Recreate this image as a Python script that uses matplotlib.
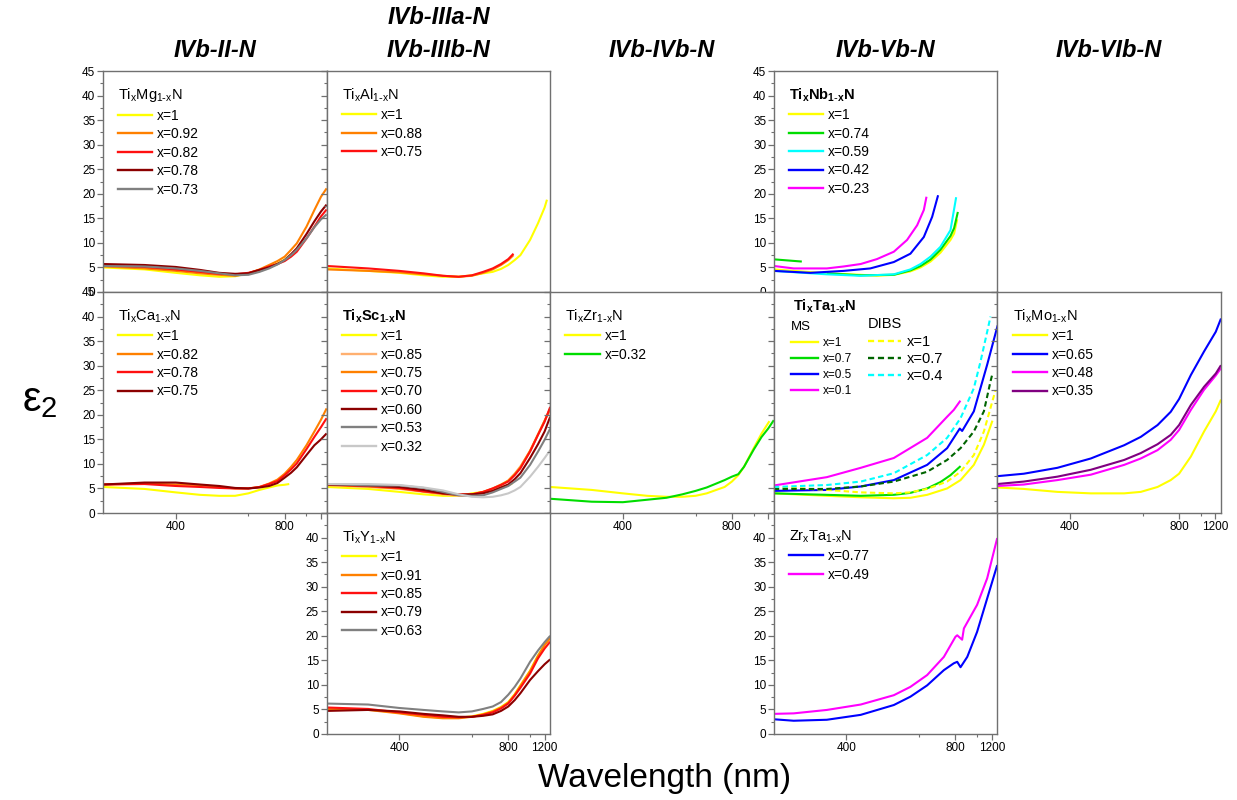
import numpy as np
import matplotlib
matplotlib.use("Agg")
import matplotlib.pyplot as plt
from matplotlib.lines import Line2D
from matplotlib.ticker import FixedLocator, FixedFormatter, NullFormatter

plt.rcParams['font.family'] = ['Liberation Sans', 'DejaVu Sans']
plt.rcParams['mathtext.default'] = 'regular'

# ---------------- data (wavelength in nm, epsilon_2) ----------------
grid = [300, 350, 400, 450, 500, 550, 600, 650, 700, 750, 800, 850, 900, 1000, 1100, 1200, 1300]

# Ti(x)Mg(1-x)N
mg_wl_x1 = [300, 350, 400, 450, 500, 550, 600, 650, 700, 750, 800, 850]
mg_x1 = [5.0, 4.6, 3.9, 3.4, 3.1, 3.2, 3.8, 4.5, 5.2, 5.8, 6.6, 7.6]
mg_x092 = [5.2, 4.8, 4.3, 3.8, 3.5, 3.3, 3.8, 4.6, 5.5, 6.3, 7.2, 8.6, 9.9, 13.3, 16.7, 19.4, 21.1]
mg_x082 = [5.4, 5.1, 4.6, 4.1, 3.7, 3.6, 3.9, 4.5, 5.2, 5.7, 6.3, 7.2, 8.2, 10.9, 13.3, 15.4, 16.8]
mg_x078 = [5.7, 5.5, 5.1, 4.5, 3.9, 3.7, 3.8, 4.5, 5.0, 5.7, 6.5, 7.7, 8.9, 11.8, 14.4, 16.4, 17.8]
mg_x073 = [5.3, 5.2, 4.8, 4.3, 3.8, 3.4, 3.5, 4.1, 4.8, 5.6, 6.5, 7.5, 8.6, 10.9, 13.2, 14.8, 15.8]

# Ti(x)Al(1-x)N
al_wl_x1 = [300, 350, 400, 450, 500, 550, 600, 650, 700, 750, 800, 850, 900, 1000, 1100, 1200, 1240]
al_x1 = [4.8, 4.3, 3.9, 3.4, 3.1, 3.1, 3.4, 3.8, 4.1, 4.7, 5.5, 6.5, 7.5, 10.6, 14.0, 17.2, 18.8]
al_wl = [300, 350, 400, 450, 500, 550, 600, 650, 700, 750, 800, 840]
al_x088 = [4.6, 4.3, 4.0, 3.6, 3.3, 3.1, 3.3, 3.9, 4.6, 5.5, 6.5, 7.5]
al_x075 = [5.3, 4.8, 4.3, 3.8, 3.3, 3.1, 3.4, 4.1, 4.8, 5.7, 6.7, 7.8]

# Ti(x)Nb(1-x)N
nb_wl_x1 = [300, 367, 428, 465, 511, 566, 606, 651, 703, 765, 790, 813]
nb_x1 = [4.6, 3.8, 3.5, 3.3, 3.5, 4.2, 5.0, 6.2, 8.0, 10.6, 11.9, 14.8]
nb_wl_x074 = [300, 332, 340, 367, 428, 511, 566, 606, 651, 703, 765, 790, 818]
nb_x074 = [6.65, 6.2, np.nan, 3.8, 3.4, 3.5, 4.4, 5.3, 6.6, 8.6, 11.4, 13.0, 16.3]
nb_wl_x059 = [300, 367, 428, 511, 566, 606, 651, 703, 765, 805]
nb_x059 = [4.3, 3.6, 3.3, 3.6, 4.6, 5.7, 7.2, 9.2, 12.6, 19.3]
nb_wl_x042 = [300, 343, 395, 449, 511, 566, 620, 659, 690]
nb_x042 = [4.3, 3.9, 4.3, 4.8, 6.1, 7.8, 11.2, 15.3, 19.7]
nb_wl_x023 = [300, 322, 367, 395, 428, 465, 511, 554, 592, 620, 632]
nb_x023 = [5.3, 4.8, 4.8, 5.2, 5.7, 6.7, 8.2, 10.6, 13.6, 16.7, 19.4]

# Ti(x)Ca(1-x)N
ca_wl_x1 = [300, 350, 400, 450, 500, 550, 600, 650, 700, 750, 800, 835]
ca_x1 = [5.3, 4.9, 4.2, 3.7, 3.5, 3.5, 4.0, 4.7, 5.2, 5.6, 5.75, 5.9]
ca_x082 = [5.8, 6.0, 5.8, 5.7, 5.3, 5.0, 5.0, 5.3, 6.0, 6.8, 8.0, 9.4, 10.8, 13.8, 16.6, 19.0, 21.3]
ca_x078 = [5.8, 5.9, 5.5, 5.3, 5.1, 5.0, 5.0, 5.3, 5.9, 6.5, 7.7, 8.9, 10.1, 13.0, 15.5, 17.5, 19.3]
ca_x075 = [5.8, 6.2, 6.2, 5.8, 5.5, 5.1, 5.0, 5.2, 5.5, 6.1, 7.2, 8.2, 9.3, 11.8, 13.8, 15.0, 16.2]

# Ti(x)Sc(1-x)N
sc_wl_x1 = [300, 350, 400, 450, 500, 550, 600, 650, 700, 750, 800, 830]
sc_x1 = [5.3, 4.9, 4.3, 3.8, 3.5, 3.5, 4.0, 4.3, 4.8, 5.2, 5.7, 6.0]
sc_x085 = [5.7, 5.3, 4.9, 4.3, 3.8, 3.5, 3.6, 4.1, 4.8, 5.6, 6.6, 8.0, 9.5, 12.6, 16.0, 18.8, 21.0]
sc_x075 = [5.7, 5.4, 5.0, 4.4, 3.9, 3.7, 3.8, 4.3, 5.0, 5.8, 6.6, 7.9, 9.3, 12.7, 16.0, 18.8, 21.3]
sc_x070 = [5.8, 5.5, 5.1, 4.4, 4.0, 3.8, 3.8, 4.3, 5.0, 5.7, 6.4, 7.7, 9.1, 12.5, 15.9, 18.6, 21.6]
sc_x060 = [5.8, 5.6, 5.3, 4.7, 4.0, 3.7, 3.8, 4.0, 4.5, 5.2, 5.8, 6.9, 8.1, 11.2, 14.0, 16.6, 19.6]
sc_x053 = [5.9, 5.6, 5.6, 5.1, 4.3, 3.6, 3.5, 3.6, 4.2, 4.9, 5.5, 6.4, 7.2, 9.8, 12.5, 14.9, 17.2]
sc_x032 = [5.9, 5.9, 5.7, 5.2, 4.6, 3.8, 3.3, 3.2, 3.3, 3.6, 4.0, 4.6, 5.3, 7.4, 9.4, 11.2, 12.8]

# Ti(x)Zr(1-x)N
zr_wl_x1 = [300, 350, 400, 450, 500, 550, 600, 650, 700, 750, 800, 850, 900, 1000, 1100, 1220]
zr_x1 = [5.3, 4.7, 4.0, 3.5, 3.3, 3.3, 3.5, 4.0, 4.7, 5.3, 6.4, 7.7, 9.4, 13.2, 16.2, 18.7]
zr_x032 = [2.9, 2.3, 2.2, 2.7, 3.1, 3.8, 4.5, 5.2, 6.0, 6.7, 7.4, 7.9, 9.4, 12.9, 15.5, 17.2, 18.9]

# Ti(x)Ta(1-x)N  (MS and DIBS)
ta_ms_wl_x1 = [300, 367, 428, 511, 566, 635, 743, 839, 962, 1082, 1205]
ta_ms_x1 = [4.0, 3.5, 3.2, 3.0, 3.1, 3.7, 5.0, 6.7, 9.8, 13.9, 18.6]
ta_ms_wl_x07 = [300, 367, 428, 511, 566, 635, 703, 765, 833]
ta_ms_x07 = [4.0, 3.7, 3.5, 3.7, 4.1, 5.0, 6.3, 7.7, 9.4]
ta_ms_wl_x05 = [300, 367, 428, 511, 635, 743, 833, 852, 962, 1128, 1300]
ta_ms_x05 = [4.5, 4.7, 5.4, 6.7, 9.8, 13.2, 17.2, 16.7, 20.7, 30.2, 38.0]
ta_ms_wl_x01 = [300, 367, 428, 511, 635, 743, 788, 833]
ta_ms_x01 = [5.6, 7.3, 9.2, 11.2, 15.3, 19.6, 21.0, 22.7]
ta_dibs_wl_x1 = [300, 367, 428, 511, 566, 635, 743, 839, 962, 1082, 1264]
ta_dibs_x1 = [5.3, 4.7, 4.2, 4.0, 4.2, 4.9, 6.4, 8.4, 11.8, 16.6, 25.0]
ta_dibs_wl_x07 = [300, 367, 428, 511, 635, 743, 839, 962, 1082, 1179, 1205]
ta_dibs_x07 = [4.9, 4.9, 5.4, 6.4, 8.4, 10.8, 13.2, 16.6, 20.7, 26.8, 28.1]
ta_dibs_wl_x04 = [300, 367, 428, 511, 635, 743, 839, 962, 1038, 1128, 1179]
ta_dibs_x04 = [5.3, 5.7, 6.4, 8.1, 11.8, 15.3, 19.3, 25.4, 30.8, 36.9, 40.0]

# Ti(x)Mo(1-x)N
mo_wl = [300, 330, 378, 442, 532, 592, 668, 743, 800, 897, 1038, 1206, 1300]
mo_x1 = [5.2, 4.9, 4.3, 4.0, 4.0, 4.3, 5.3, 6.7, 8.0, 11.5, 16.6, 20.7, 23.1]
mo_x065 = [7.5, 8.0, 9.2, 11.1, 13.8, 15.5, 17.9, 20.6, 23.2, 28.1, 32.9, 36.9, 39.6]
mo_x048 = [5.5, 5.8, 6.7, 7.8, 9.8, 11.1, 12.8, 14.9, 16.9, 21.0, 25.1, 28.0, 29.5]
mo_x035 = [5.9, 6.4, 7.4, 8.8, 10.8, 12.2, 14.0, 15.9, 17.9, 22.0, 25.7, 28.4, 30.1]

# Ti(x)Y(1-x)N
y_x1 = [5.2, 5.0, 4.3, 3.6, 3.3, 3.3, 3.6, 4.1, 4.7, 5.5, 6.5, 8.1, 9.9, 12.9, 16.0, 18.2, 19.6]
y_x091 = [5.1, 4.9, 4.2, 3.5, 3.2, 3.2, 3.5, 4.0, 4.6, 5.4, 6.4, 8.0, 9.8, 12.8, 15.9, 18.1, 19.5]
y_x085 = [5.4, 5.1, 4.4, 3.9, 3.5, 3.4, 3.5, 3.9, 4.4, 5.2, 6.2, 7.8, 9.4, 12.3, 15.4, 17.4, 18.8]
y_x079 = [4.7, 4.9, 4.6, 4.1, 3.8, 3.5, 3.5, 3.7, 4.0, 4.7, 5.6, 6.9, 8.3, 11.0, 12.8, 14.2, 15.2]
y_x063 = [6.2, 6.0, 5.3, 4.9, 4.6, 4.4, 4.6, 5.1, 5.6, 6.5, 8.0, 9.6, 11.3, 14.7, 17.0, 18.7, 20.0]

# Zr(x)Ta(1-x)N
zt_wl_x077 = [300, 322, 367, 428, 511, 566, 635, 723, 788, 813, 839, 897, 998, 1128, 1297]
zt_x077 = [3.0, 2.7, 2.9, 3.9, 5.9, 7.6, 9.9, 13.0, 14.4, 14.7, 13.6, 15.7, 20.8, 27.6, 34.4]
zt_wl_x049 = [300, 322, 367, 428, 511, 566, 635, 723, 800, 813, 852, 867, 998, 1128, 1297]
zt_x049 = [4.1, 4.2, 4.9, 6.0, 7.9, 9.6, 12.0, 15.7, 19.8, 20.1, 19.2, 21.5, 26.3, 31.7, 39.9]

headers = ['IVb-II-N', 'IVb-IIIa-N\nIVb-IIIb-N', 'IVb-IVb-N', 'IVb-Vb-N', 'IVb-VIb-N']
x_major = [400, 800, 1200]
x_minor = [600, 1000]
y_major = [0, 5, 10, 15, 20, 25, 30, 35, 40, 45]

# ---------------- styling ----------------
YEL, ORA, RED, DRD, GRY = '#FFFF00', '#FF8000', '#FF1010', '#8B0000', '#808080'
LOR, LGR, GRN, CYN, BLU = '#FFB070', '#C8C8C8', '#00DD00', '#00FFFF', '#0000FF'
MAG, DGN, PUR = '#FF00FF', '#006400', '#800080'
SPINE = '#707070'
LW = 1.5
DASH = (0, (2.6, 1.6))

W, H = 1237, 800
fig = plt.figure(figsize=(W / 100, H / 100), dpi=100)
col_left = [103, 326.6, 550.2, 773.8, 997.4]
col_w = 223.6
row_top = [71, 292, 513]
row_h = 221


def fwd(x):
    with np.errstate(divide='ignore', invalid='ignore'):
        return -1000.0 / np.asarray(x, dtype=float)


def inv(y):
    with np.errstate(divide='ignore', invalid='ignore'):
        return -1000.0 / np.asarray(y, dtype=float)


def formula(a, b):
    return a + r'$_x$' + b + r'$_{1\text{-}x}$N'


def make_ax(r, c, ylabels=None, xlabels=None):
    ax = fig.add_axes([col_left[c] / W, 1 - (row_top[r] + row_h) / H, col_w / W, row_h / H])
    ax.set_xscale('function', functions=(fwd, inv))
    ax.set_xlim(300, 1300)
    ax.set_ylim(0, 45)
    ax.xaxis.set_major_locator(FixedLocator(x_major))
    ax.xaxis.set_minor_locator(FixedLocator(x_minor))
    ax.yaxis.set_major_locator(FixedLocator(y_major))
    ax.yaxis.set_minor_locator(FixedLocator([v + 2.5 for v in y_major[:-1]]))
    ax.xaxis.set_minor_formatter(NullFormatter())
    ax.yaxis.set_minor_formatter(NullFormatter())
    if ylabels == 'all':
        ax.yaxis.set_major_formatter(FixedFormatter([str(v) for v in y_major]))
    elif ylabels == 'no45':
        ax.yaxis.set_major_formatter(FixedFormatter([str(v) for v in y_major[:-1]] + ['']))
    else:
        ax.yaxis.set_major_formatter(NullFormatter())
    if xlabels is None:
        ax.xaxis.set_major_formatter(NullFormatter())
    else:
        ax.xaxis.set_major_formatter(FixedFormatter(xlabels))
    for s in ax.spines.values():
        s.set_color(SPINE)
        s.set_linewidth(1.0)
    ax.tick_params(which='both', direction='out', color=SPINE, labelsize=8.5, pad=1.5)
    ax.tick_params(which='major', length=4, width=0.9)
    ax.tick_params(which='minor', length=2.5, width=0.8)
    return ax


def draw(ax, series, title, bold=False, fs=10):
    handles = []
    labels = []
    for wl, vals, col, lab in series:
        ax.plot(wl, vals, color=col, lw=LW, solid_capstyle='butt')
        handles.append(Line2D([], [], color=col, lw=1.7))
        labels.append(lab)
    leg = ax.legend(handles, labels, title=title, loc='upper left', frameon=False,
                    fontsize=fs, title_fontsize=10.5, handlelength=2.45, handletextpad=0.35,
                    labelspacing=0.32, borderaxespad=0.7, borderpad=0.4, alignment='left')
    if bold:
        leg.get_title().set_fontweight('bold')
    return leg


# Row 1
ax = make_ax(0, 0, ylabels='all')
draw(ax, [(mg_wl_x1, mg_x1, YEL, 'x=1'), (grid, mg_x092, ORA, 'x=0.92'), (grid, mg_x082, RED, 'x=0.82'),
          (grid, mg_x078, DRD, 'x=0.78'), (grid, mg_x073, GRY, 'x=0.73')],
     formula('Ti', 'Mg'))

ax = make_ax(0, 1)
draw(ax, [(al_wl_x1, al_x1, YEL, 'x=1'), (al_wl, al_x088, ORA, 'x=0.88'), (al_wl, al_x075, RED, 'x=0.75')],
     formula('Ti', 'Al'))

ax = make_ax(0, 3, ylabels='all')
draw(ax, [(nb_wl_x1, nb_x1, YEL, 'x=1'), (nb_wl_x074, nb_x074, GRN, 'x=0.74'), (nb_wl_x059, nb_x059, CYN, 'x=0.59'),
          (nb_wl_x042, nb_x042, BLU, 'x=0.42'), (nb_wl_x023, nb_x023, MAG, 'x=0.23')],
     formula('Ti', 'Nb'), bold=True)

# Row 2
ax = make_ax(1, 0, ylabels='all', xlabels=['400', '800', ''])
draw(ax, [(ca_wl_x1, ca_x1, YEL, 'x=1'), (grid, ca_x082, ORA, 'x=0.82'), (grid, ca_x078, RED, 'x=0.78'),
          (grid, ca_x075, DRD, 'x=0.75')],
     formula('Ti', 'Ca'))

ax = make_ax(1, 1)
draw(ax, [(sc_wl_x1, sc_x1, YEL, 'x=1'), (grid, sc_x085, LOR, 'x=0.85'), (grid, sc_x075, ORA, 'x=0.75'),
          (grid, sc_x070, RED, 'x=0.70'), (grid, sc_x060, DRD, 'x=0.60'), (grid, sc_x053, GRY, 'x=0.53'),
          (grid, sc_x032, LGR, 'x=0.32')],
     formula('Ti', 'Sc'), bold=True)

ax = make_ax(1, 2, xlabels=['400', '800', ''])
draw(ax, [(zr_wl_x1, zr_x1, YEL, 'x=1'), (grid, zr_x032, GRN, 'x=0.32')], formula('Ti', 'Zr'))

ax = make_ax(1, 3)
ms = [(ta_ms_wl_x1, ta_ms_x1, YEL, 'x=1'), (ta_ms_wl_x07, ta_ms_x07, GRN, 'x=0.7'),
      (ta_ms_wl_x05, ta_ms_x05, BLU, 'x=0.5'), (ta_ms_wl_x01, ta_ms_x01, MAG, 'x=0.1')]
dibs = [(ta_dibs_wl_x1, ta_dibs_x1, YEL, 'x=1'), (ta_dibs_wl_x07, ta_dibs_x07, DGN, 'x=0.7'),
        (ta_dibs_wl_x04, ta_dibs_x04, CYN, 'x=0.4')]
for wl, vals, col, lab in ms:
    ax.plot(wl, vals, color=col, lw=LW)
for wl, vals, col, lab in dibs:
    ax.plot(wl, vals, color=col, lw=LW, linestyle=DASH)
ax.text(0.085, 0.975, formula('Ti', 'Ta'), transform=ax.transAxes, ha='left', va='top',
        fontsize=10.5, fontweight='bold')
leg1 = ax.legend([Line2D([], [], color=c, lw=1.7) for _, _, c, _ in ms], [l for _, _, _, l in ms],
                 title='MS', loc='upper left', bbox_to_anchor=(0.075, 0.868), frameon=False,
                 fontsize=8.5, title_fontsize=9.5, handlelength=2.3, handletextpad=0.4,
                 labelspacing=0.34, borderpad=0, borderaxespad=0, alignment='left')
ax.add_artist(leg1)
ax.legend([Line2D([], [], color=c, lw=1.7, linestyle=DASH) for _, _, c, _ in dibs], [l for _, _, _, l in dibs],
          title='DIBS', loc='upper left', bbox_to_anchor=(0.42, 0.885), frameon=False,
          fontsize=10.5, title_fontsize=10.5, handlelength=2.3, handletextpad=0.4,
          labelspacing=0.22, borderpad=0, borderaxespad=0, alignment='left')

ax = make_ax(1, 4, xlabels=['400', '800', '1200'])
draw(ax, [(mo_wl, mo_x1, YEL, 'x=1'), (mo_wl, mo_x065, BLU, 'x=0.65'), (mo_wl, mo_x048, MAG, 'x=0.48'),
          (mo_wl, mo_x035, PUR, 'x=0.35')],
     formula('Ti', 'Mo'))

# Row 3
ax = make_ax(2, 1, ylabels='no45', xlabels=['400', '800', '1200'])
draw(ax, [(grid, y_x1, YEL, 'x=1'), (grid, y_x091, ORA, 'x=0.91'), (grid, y_x085, RED, 'x=0.85'),
          (grid, y_x079, DRD, 'x=0.79'), (grid, y_x063, GRY, 'x=0.63')],
     formula('Ti', 'Y'))

ax = make_ax(2, 3, ylabels='no45', xlabels=['400', '800', '1200'])
draw(ax, [(zt_wl_x077, zt_x077, BLU, 'x=0.77'), (zt_wl_x049, zt_x049, MAG, 'x=0.49')],
     formula('Zr', 'Ta'))

# Column headers
hx = [col_left[c] + col_w / 2 for c in range(5)]
for c, h in enumerate(headers):
    fig.text(hx[c] / W, 1 - 62 / H, h, ha='center', va='bottom', fontsize=17,
             fontweight='bold', fontstyle='italic', linespacing=1.55)

fig.text(665 / W, 1 - 778 / H, 'Wavelength (nm)', ha='center', va='center', fontsize=24)
fig.text(40 / W, 1 - 400 / H, r'$\varepsilon_2$', ha='center', va='center', fontsize=30)

fig.savefig('out.png', dpi=100)
